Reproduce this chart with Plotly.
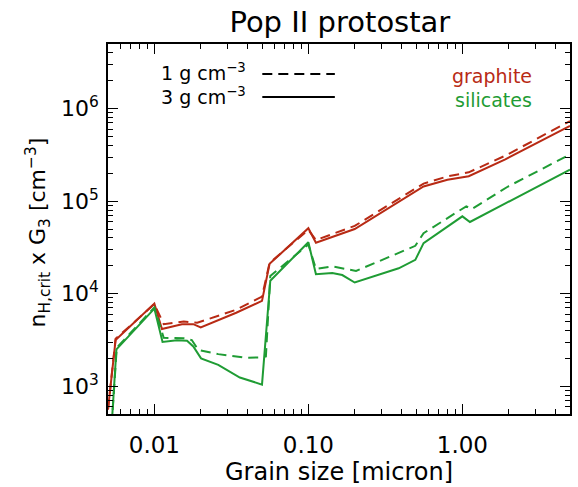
import plotly.graph_objects as go

# Grain size [micron] and n_H,crit x G3 [cm^-3]
graphite_3_x = [0.005, 0.0052, 0.0056, 0.01, 0.0112, 0.0151, 0.0179, 0.020, 0.034, 0.050,
                0.056, 0.10, 0.112, 0.20, 0.56, 0.8, 1.1, 1.9, 5.0]
graphite_3_y = [560, 1080, 3150, 7800, 4150, 4680, 4680, 4320, 6220, 8350,
                21000, 51000, 35500, 50000, 144000, 170000, 186000, 283000, 650000]

graphite_1_x = [0.005, 0.0052, 0.0056, 0.01, 0.0115, 0.0155, 0.019, 0.034, 0.050,
                0.056, 0.10, 0.112, 0.20, 0.56, 0.8, 1.1, 1.9, 5.0]
graphite_1_y = [560, 1080, 3250, 7700, 4680, 5000, 4850, 6700, 9300,
                21500, 49000, 38000, 54000, 155000, 185000, 205000, 310000, 735000]

silicate_3_x = [0.0052, 0.00567, 0.01, 0.0113, 0.014, 0.0163, 0.0179, 0.0201, 0.026, 0.0359,
                0.050, 0.0566, 0.10, 0.112, 0.143, 0.166, 0.20, 0.287, 0.386, 0.495,
                0.56, 1.0, 1.12, 1.93, 5.0]
silicate_3_y = [250, 2500, 6900, 3000, 3130, 3100, 2690, 2000, 1700, 1240,
                1040, 13800, 36000, 16200, 16700, 15900, 13200, 15900, 18800, 23200,
                35200, 68500, 59500, 95800, 219000]

silicate_1_x = [0.0052, 0.0057, 0.01, 0.0115, 0.0155, 0.0175, 0.0193, 0.026, 0.0387, 0.050,
                0.053, 0.0566, 0.10, 0.112, 0.143, 0.17, 0.204, 0.302, 0.495, 0.56,
                1.06, 1.15, 1.98, 5.0]
silicate_1_y = [250, 2600, 7100, 3330, 3300, 3150, 2460, 2220, 2030, 2050,
                2100, 15500, 34000, 18500, 19700, 18800, 17600, 23200, 32900, 45100,
                88000, 82000, 144000, 320000]

x_tickvals = [0.01, 0.1, 1.0]
x_ticktext = ["0.01", "0.10", "1.00"]
y_tickvals = [1e3, 1e4, 1e5, 1e6]
y_ticktext = ["10<sup>3</sup>", "10<sup>4</sup>", "10<sup>5</sup>", "10<sup>6</sup>"]

RED = "#b82a14"
GREEN = "#1f9c34"
FONT = "DejaVu Sans"
DASH = "10px,6px"

fig = go.Figure()
fig.add_trace(go.Scatter(x=graphite_1_x, y=graphite_1_y, mode="lines",
                         line=dict(color=RED, width=2, dash=DASH)))
fig.add_trace(go.Scatter(x=graphite_3_x, y=graphite_3_y, mode="lines",
                         line=dict(color=RED, width=2)))
fig.add_trace(go.Scatter(x=silicate_1_x, y=silicate_1_y, mode="lines",
                         line=dict(color=GREEN, width=2, dash=DASH)))
fig.add_trace(go.Scatter(x=silicate_3_x, y=silicate_3_y, mode="lines",
                         line=dict(color=GREEN, width=2)))

x_minor = [m * 10.0 ** e for e in (-3, -2, -1, 0) for m in range(2, 10)]
x_minor = [v for v in x_minor if 0.005 <= v <= 5 and v not in x_tickvals]
y_minor = [m * 10.0 ** e for e in (2, 3, 4, 5, 6) for m in range(2, 10)]
y_minor = [v for v in y_minor if 500 <= v <= 5e6]

axis_common = dict(type="log", showgrid=False, zeroline=False, showline=True,
                   linecolor="black", linewidth=1.5, mirror="allticks",
                   ticks="inside", ticklen=10, tickwidth=1, tickcolor="black")

fig.update_xaxes(**axis_common, range=[-2.30103, 0.69897], tickmode="array",
                 tickvals=x_tickvals, ticktext=x_ticktext, ticklabelstandoff=10,
                 tickfont=dict(family=FONT, size=23, color="black"),
                 minor=dict(tickmode="array", tickvals=x_minor, ticks="inside",
                            ticklen=5, tickcolor="black", showgrid=False))
fig.update_yaxes(**axis_common, range=[2.69897, 6.69897], tickmode="array",
                 tickvals=y_tickvals, ticktext=y_ticktext, ticklabelstandoff=3,
                 tickfont=dict(family=FONT, size=22, color="black"),
                 minor=dict(tickmode="array", tickvals=y_minor, ticks="inside",
                            ticklen=5, tickcolor="black", showgrid=False))

ann_font = dict(family=FONT, size=19, color="black")
annotations = [
    dict(text="1 g cm<sup>−3</sup>", x=0.303, y=0.925, xanchor="right", yanchor="middle",
         font=ann_font),
    dict(text="3 g cm<sup>−3</sup>", x=0.303, y=0.860, xanchor="right", yanchor="middle",
         font=ann_font),
    dict(text="graphite", x=0.922, y=0.913, xanchor="right", yanchor="middle",
         font=dict(family=FONT, size=19, color=RED)),
    dict(text="silicates", x=0.922, y=0.848, xanchor="right", yanchor="middle",
         font=dict(family=FONT, size=19, color=GREEN)),
    dict(text="Grain size [micron]", x=0.5, y=-0.157, xanchor="center", yanchor="middle",
         font=dict(family=FONT, size=24, color="black")),
    dict(text="n<sub>H,crit</sub> x G<sub>3</sub> [cm<sup>−3</sup>]", x=-0.152, y=0.49,
         xanchor="center", yanchor="middle", textangle=-90,
         font=dict(family=FONT, size=22, color="black")),
]
for a in annotations:
    a.update(xref="paper", yref="paper", showarrow=False)

shapes = [
    dict(type="line", xref="paper", yref="paper", x0=0.334, x1=0.491, y0=0.919, y1=0.919,
         line=dict(color="black", width=2, dash=DASH)),
    dict(type="line", xref="paper", yref="paper", x0=0.334, x1=0.491, y0=0.857, y1=0.857,
         line=dict(color="black", width=2)),
]

fig.update_layout(
    width=578, height=487,
    margin=dict(l=108, r=6, t=44, b=73),
    paper_bgcolor="white", plot_bgcolor="white",
    showlegend=False,
    title=dict(text="Pop II protostar", x=0.588, xanchor="center", y=0.955, yanchor="middle",
               font=dict(family=FONT, size=29, color="black")),
    annotations=annotations, shapes=shapes,
)

fig.write_html("out.html", config={"displayModeBar": False},
               post_script="document.body.style.margin='0';document.body.style.padding='0';")
